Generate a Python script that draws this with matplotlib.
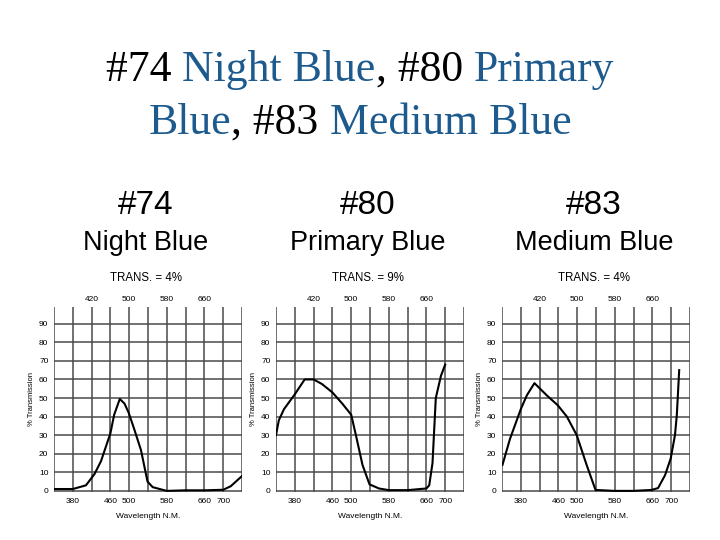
import matplotlib.pyplot as plt

# filter spectral curves (wavelength nm, % transmission)
wl_74 = [342, 380, 408, 426, 440, 460, 468, 480, 490, 499, 511, 525, 539, 550, 580, 619, 660, 700, 716, 740]
t_74 = [1, 1, 3, 9, 16, 31, 41, 49.5, 47, 42, 33, 22, 5, 2, 0, 0.3, 0.3, 0.6, 2.5, 8]

wl_80 = [340, 346, 357, 380, 401, 420, 438, 460, 481, 500, 510, 524, 539, 559, 580, 620, 660, 666, 673, 680, 691, 700]
t_80 = [30, 38, 44, 52, 60, 60, 57.5, 53, 47, 41, 30, 14, 3.5, 1.3, 0.4, 0.4, 1.3, 3, 15, 50, 62, 68]

wl_83 = [341, 357, 380, 393, 409, 421, 435, 459, 478, 499, 520, 539, 579, 619, 658, 672, 687, 699, 708, 712, 717]
t_83 = [14, 28, 44, 51.5, 58, 55, 51.5, 46, 40, 30, 14, 0.5, 0, 0, 0.5, 1.5, 8.5, 17.5, 30, 41, 65]

numbers = ['#74', '#80', '#83']
names = ['Night Blue', 'Primary Blue', 'Medium Blue']
trans = ['TRANS. = 4%', 'TRANS. = 9%', 'TRANS. = 4%']
curves = [(wl_74, t_74), (wl_80, t_80), (wl_83, t_83)]

bottom_ticks = [380, 460, 500, 580, 660, 700]
top_ticks = [420, 500, 580, 660]
y_ticks = [0, 10, 20, 30, 40, 50, 60, 70, 80, 90]
grid_x = [340, 380, 420, 460, 500, 540, 580, 620, 660, 700, 740]

BLUE = '#1d5a8e'
small = ['Liberation Sans Narrow', 'Liberation Sans']

fig = plt.figure(figsize=(7.2, 5.4), dpi=100)

lefts = [54, 276, 502]
for i, (wl, tr) in enumerate(curves):
    ax = fig.add_axes([lefts[i] / 720, 48 / 540, 188 / 720, 185 / 540])
    ax.set_xlim(340, 740)
    ax.set_ylim(-0.6, 99)
    for s in ax.spines.values():
        s.set_visible(False)
    for x in grid_x:
        ax.plot([x, x], [-0.6, 99], color='#4a4a4a', lw=1.1, zorder=1)
    for y in y_ticks:
        ax.plot([340, 740], [y, y], color='#4a4a4a', lw=1.1, zorder=1)
    ax.plot(wl, tr, color='black', lw=1.5, zorder=3)

    ax.set_xticks(bottom_ticks)
    ax.set_xticklabels([str(v) for v in bottom_ticks], fontsize=6, family=small)
    ax.set_yticks(y_ticks)
    ax.set_yticklabels([str(v) for v in y_ticks], fontsize=6, family=small)
    ax.tick_params(length=0, pad=4)
    top = ax.secondary_xaxis('top')
    top.set_xticks(top_ticks)
    top.set_xticklabels([str(v) for v in top_ticks], fontsize=6, family=small)
    top.tick_params(length=0, pad=3)
    top.spines['top'].set_visible(False)
    ax.set_xlabel('Wavelength N.M.', fontsize=6, family=small, labelpad=6)
    ax.set_ylabel('% Transmission', fontsize=5.5, family=small, labelpad=3)

    cx = (lefts[i] + 92) / 720
    fig.text(cx, 1 - 205 / 540, numbers[i], ha='center', va='center',
             fontsize=24, family='Liberation Sans')
    fig.text(cx, 1 - 243 / 540, names[i], ha='center', va='center',
             fontsize=19.5, family='Liberation Sans')
    fig.text(cx, 1 - 278 / 540, trans[i], ha='center', va='center',
             fontsize=8.3, family=small)

# two-line title with mixed colours, centred piece by piece
lines = [
    ([('#74 ', 'black'), ('Night Blue', BLUE), (', #80 ', 'black'), ('Primary', BLUE)], 1 - 70 / 540),
    ([('Blue', BLUE), (', #83 ', 'black'), ('Medium Blue', BLUE)], 1 - 123 / 540),
]
renderer = fig.canvas.get_renderer()
for pieces, y in lines:
    objs = [fig.text(0, y, s.replace(' ', '\u00a0'), color=c, fontsize=31.5, family='Liberation Serif',
                     va='center', ha='left') for s, c in pieces]
    widths = [o.get_window_extent(renderer).width / 720 for o in objs]
    x = 0.5 - sum(widths) / 2
    for o, w in zip(objs, widths):
        o.set_x(x)
        x += w

fig.savefig('out.png', dpi=100, facecolor='white')
